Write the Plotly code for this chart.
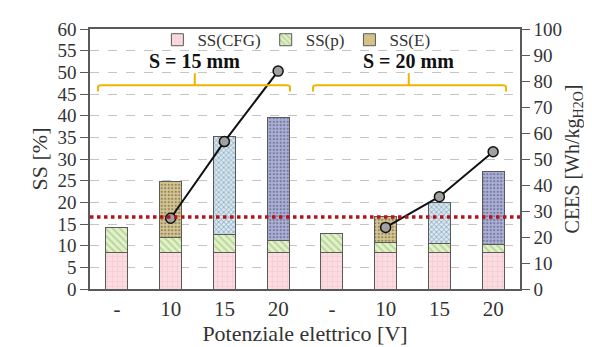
import plotly.graph_objects as go

# ---- data ----
categories = ["-", "10", "15", "20", "-", "10", "15", "20"]
ss_cfg = [8.5, 8.5, 8.5, 8.5, 8.5, 8.5, 8.5, 8.5]
ss_p = [5.7, 3.4, 4.1, 2.6, 4.35, 2.3, 1.9, 1.7]
ss_e = [0, 13.0, 22.6, 28.5, 0, 5.9, 9.6, 17.0]
cees = [None, 27.2, 56.7, 83.8, None, 23.7, 35.5, 52.8]
threshold = 16.6
group_labels = ["S = 15 mm", "S = 20 mm"]

xpos = list(range(len(categories)))
SERIF = "Liberation Serif"
EDGE = "#5a5a5a"
TXT = "#333333"

e_bg = ["#d8c68e", "#d8c68e", "#d3eaf8", "#aab0dc", "#d8c68e", "#d8c68e", "#d3eaf8", "#aab0dc"]
e_fg = ["#c2aa6a", "#c2aa6a", "#a9d0ea", "#e4e7f6", "#c2aa6a", "#c2aa6a", "#a9d0ea", "#e4e7f6"]
e_shape = [".", ".", "x", ".", ".", ".", "x", "."]

fig = go.Figure()

fig.add_trace(go.Bar(
    x=xpos, y=ss_cfg, name="SS(CFG)", width=0.41,
    marker=dict(color="#fadce1", line=dict(color=EDGE, width=1),
                pattern=dict(shape="+", fgcolor="#f3bcc5", size=5, solidity=0.3, fillmode="overlay")),
))
fig.add_trace(go.Bar(
    x=xpos, y=ss_p, name="SS(p)", width=0.41,
    marker=dict(color="#e2f1cc", line=dict(color=EDGE, width=1),
                pattern=dict(shape="\\", fgcolor="#8fbc60", size=5, solidity=0.4, fillmode="overlay")),
))
fig.add_trace(go.Bar(
    x=xpos, y=ss_e, name="SS(E)", width=0.41,
    marker=dict(color=e_bg, line=dict(color=EDGE, width=1),
                pattern=dict(shape=e_shape, fgcolor=e_fg, size=3.5, solidity=0.35, fillmode="overlay")),
))
fig.add_trace(go.Scatter(
    x=xpos, y=cees, yaxis="y2", mode="lines+markers", showlegend=False,
    line=dict(color="#111111", width=2),
    marker=dict(size=10, color="#a0a0a0", line=dict(color="#111111", width=1.5)),
))

# threshold dotted red line
fig.add_shape(type="line", xref="paper", x0=0, x1=1, yref="y", y0=threshold, y1=threshold,
              line=dict(color="#b5121b", width=3.5, dash="dot"), layer="above")

# braces and group labels
brace_col = "#f0b400"
braces = [(-0.35, 3.22, 1.45), (3.65, 7.24, 5.43)]
for (a, b, c), lab in zip(braces, group_labels):
    fig.add_shape(type="path", xref="x", yref="y",
                  path=f"M {a},45.6 L {a},46.6 Q {a},47 {a+0.07},47 L {b-0.07},47 Q {b},47 {b},46.6 L {b},45.6",
                  line=dict(color=brace_col, width=2))
    fig.add_shape(type="line", xref="x", yref="y", x0=c, x1=c, y0=47, y1=49.8,
                  line=dict(color=brace_col, width=2))
    fig.add_annotation(x=c, y=52.6, xref="x", yref="y", text=f"<b>{lab}</b>", showarrow=False,
                       font=dict(family=SERIF, size=20, color="#111111"))

fig.update_layout(
    barmode="stack",
    width=592, height=347,
    margin=dict(l=82, r=80, t=21, b=66),
    paper_bgcolor="white", plot_bgcolor="white",
    font=dict(family=SERIF, size=20, color=TXT),
    bargap=0.59,
    legend=dict(orientation="h", x=0.48, xanchor="center", y=0.957, yanchor="middle",
                font=dict(family=SERIF, size=17, color=TXT), bgcolor="rgba(0,0,0,0)",
                traceorder="normal", itemwidth=30),
    xaxis=dict(range=[-0.5, 7.5], tickvals=xpos, ticktext=categories, ticks="",
               showline=True, linecolor=EDGE, linewidth=1.5, mirror=True, showgrid=False,
               title=dict(text="Potenziale elettrico [V]", font=dict(size=22), standoff=2),
               tickfont=dict(size=21)),
    yaxis=dict(range=[0, 60], dtick=5, ticks="outside", ticklen=8, tickcolor=EDGE,
               showline=True, linecolor=EDGE, linewidth=1.5,
               showgrid=True, gridcolor="#c4c4c4", griddash="dash", gridwidth=1,
               zeroline=False,
               title=dict(text="SS [%]", font=dict(size=22), standoff=4),
               tickfont=dict(size=19)),
    yaxis2=dict(range=[0, 100], dtick=10, overlaying="y", side="right",
                ticks="outside", ticklen=8, tickcolor=EDGE,
                showline=True, linecolor=EDGE, linewidth=1.5, showgrid=False, zeroline=False,
                title=dict(text="CEES [Wh/kg<sub>H2O</sub>]", font=dict(size=20), standoff=4),
                tickfont=dict(size=19)),
)

fig.write_html("out.html")
